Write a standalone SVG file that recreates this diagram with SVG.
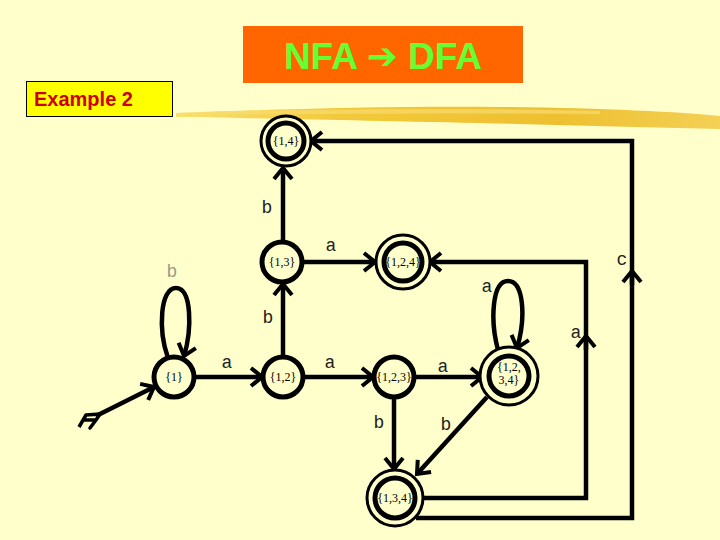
<svg xmlns="http://www.w3.org/2000/svg" width="720" height="540" viewBox="0 0 720 540">
<defs>
<marker id="ah" markerUnits="userSpaceOnUse" markerWidth="24" markerHeight="24" viewBox="0 0 24 24" refX="21" refY="12" orient="auto">
<path d="M10,3 L21,12 L10,21" fill="none" stroke="#000" stroke-width="4"/>
</marker>
<linearGradient id="brush" x1="0" y1="0" x2="1" y2="0">
<stop offset="0" stop-color="#F8E070"/>
<stop offset="0.3" stop-color="#F2C93A"/>
<stop offset="0.7" stop-color="#EEC030"/>
<stop offset="1" stop-color="#F4D055"/>
</linearGradient>
</defs>
<style>
.bg{fill:#FFFFCC}
.edge{fill:none;stroke:#000;stroke-width:4.5;marker-end:url(#ah)}
.line{fill:none;stroke:#000;stroke-width:4.5}
.st{fill:#FFFFCC;stroke:#000;stroke-width:5}
.outer{fill:#FFFFCC;stroke:#000;stroke-width:3}
.inner{fill:#FFFFCC;stroke:#000;stroke-width:5}
.nl{font-family:"Liberation Serif",serif;font-size:12px;fill:#000;text-anchor:middle}
.el{font-family:"Liberation Mono",monospace;font-size:18px;fill:#222;text-anchor:middle}
</style>
<rect class="bg" x="0" y="0" width="720" height="540"/>
<!-- brush stroke -->
<path d="M176,113 C260,110 380,106 500,107 C600,108 680,112 720,116 L720,129 C640,127 560,125 480,123 C380,121 300,119 240,118 C210,117 190,117 176,117 Z" fill="url(#brush)"/>
<path d="M200,112 C320,109 460,108 600,111 L600,114 C460,113 320,114 200,115 Z" fill="#F8DC70" opacity="0.7"/>
<!-- title -->
<g id="title">
<rect x="243" y="26" width="280" height="57" fill="#FF6600"/>
<text x="383" y="69" font-family="Liberation Sans,DejaVu Sans,sans-serif" font-weight="bold" font-size="37" fill="#66FF33" text-anchor="middle">NFA ➔ DFA</text>
</g>
<g id="example">
<rect x="26.5" y="81.5" width="146" height="35" fill="#FFFF00" stroke="#000" stroke-width="1"/>
<text x="34" y="106" font-family="Liberation Sans,Arial,sans-serif" font-weight="bold" font-size="20" fill="#CC0000">Example 2</text>
</g>
<!-- connectors -->
<g id="connectors">
<path class="edge" d="M283,241 V168"/>
<path class="edge" d="M283,356 V284"/>
<path class="edge" d="M302,262 H375"/>
<path class="line" d="M422,498 H586 V341"/>
<path class="edge" d="M586,350 V336"/>
<path class="edge" d="M586,336 V262 H430"/>
<path class="line" d="M416,518 H632 V276"/>
<path class="edge" d="M632,285 V271"/>
<path class="edge" d="M632,271 V141 H311"/>
<path class="edge" d="M194,377 H262"/>
<path class="edge" d="M304,377 H373"/>
<path class="edge" d="M415,377 H482"/>
<path class="edge" d="M394,398 V469"/>
<path class="edge" d="M487,397 L417,474"/>
<path class="edge" d="M168,358 C158,330 160,288 176,288 C192,288 192,330 184,356"/>
<path class="edge" d="M498,350 C490,320 492,281 508,281 C524,281 526,318 517,348"/>
<path class="edge" d="M96,416 L154,387"/>
<path d="M79,427 L86,415 L100,414 L96,420 L83,420 M96,420 L90,428 Z" fill="none" stroke="#000" stroke-width="3.5" stroke-linejoin="round"/>
</g>
<!-- edge labels -->
<g id="labels">
<text class="el" x="267" y="213">b</text>
<text class="el" x="331" y="251">a</text>
<text class="el" x="172" y="277" style="fill:#9a9a88">b</text>
<text class="el" x="622" y="265">c</text>
<text class="el" x="487" y="292">a</text>
<text class="el" x="268" y="323">b</text>
<text class="el" x="576" y="338">a</text>
<text class="el" x="227" y="368">a</text>
<text class="el" x="330" y="368">a</text>
<text class="el" x="443" y="372">a</text>
<text class="el" x="379" y="428">b</text>
<text class="el" x="446" y="430">b</text>
</g>
<!-- nodes -->
<g id="n14">
<circle class="outer" cx="286" cy="141" r="25"/>
<circle class="inner" cx="286" cy="141" r="18"/>
<text class="nl" x="286" y="145">{1,4}</text>
</g>
<g id="n13">
<circle class="st" cx="282" cy="262" r="20"/>
<text class="nl" x="282" y="266">{1,3}</text>
</g>
<g id="n124">
<circle class="outer" cx="403" cy="262" r="27"/>
<circle class="inner" cx="403" cy="262" r="19"/>
<text class="nl" x="403" y="266" font-size="11">{1,2,4}</text>
</g>
<g id="n1">
<circle class="st" cx="174" cy="377" r="20"/>
<text class="nl" x="174" y="381">{1}</text>
</g>
<g id="n12">
<circle class="st" cx="283" cy="377" r="20"/>
<text class="nl" x="283" y="381">{1,2}</text>
</g>
<g id="n123">
<circle class="st" cx="394" cy="377" r="20"/>
<text class="nl" x="394" y="381" font-size="10.5">{1,2,3}</text>
</g>
<g id="n1234">
<circle class="outer" cx="509" cy="376" r="29"/>
<circle class="inner" cx="509" cy="376" r="20"/>
<text class="nl" x="509" y="371" font-size="9">{1,2,</text>
<text class="nl" x="509" y="384" font-size="9">3,4}</text>
</g>
<g id="n134">
<circle class="outer" cx="395" cy="498" r="28"/>
<circle class="inner" cx="395" cy="498" r="20"/>
<text class="nl" x="395" y="502" font-size="11">{1,3,4}</text>
</g>
</svg>
